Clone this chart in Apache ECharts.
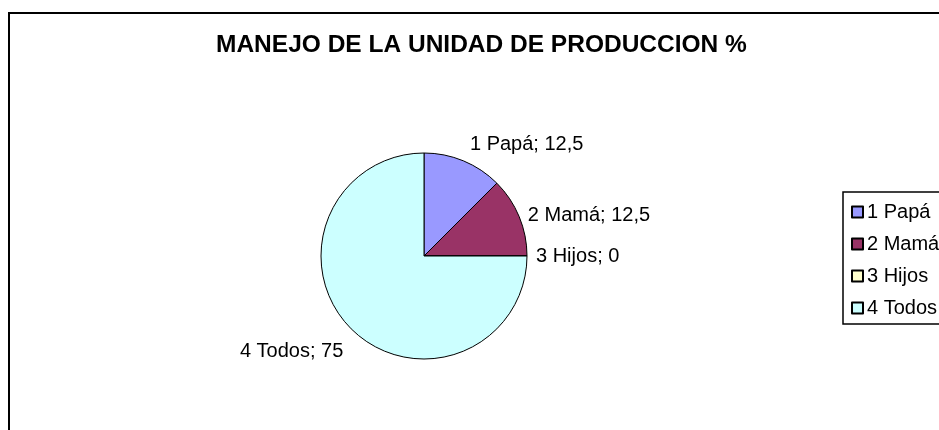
<!DOCTYPE html>
<html>
<head>
<meta charset="utf-8">
<script src="https://cdn.jsdelivr.net/npm/echarts@6/dist/echarts.min.js"></script>
<style>
html, body { margin: 0; padding: 0; background: #fff; }
#chart_box { width: 939px; height: 430px; }
</style>
</head>
<body>
<div id="chart_box"></div>
<script>
/*categorias*/
var categories = ['1 Papá', '2 Mamá', '3 Hijos', '4 Todos'];
/*porcentajes*/
var values = [12.5, 12.5, 0, 75];
/*colores de Excel*/
var colors = ['#9999FF', '#993366', '#FFFFCC', '#CCFFFF'];

var myChart = echarts.init(document.getElementById('chart_box'));

/*texto de la etiqueta con coma decimal*/
function labelText(p) {
	return p.name + '; ' + String(p.value).replace('.', ',');
}

var pieData = [];
for (var i = 0; i < categories.length; i++) {
	pieData.push({
		name: categories[i],
		value: values[i],
		itemStyle: { color: colors[i] }
	});
}
/*Excel pone la etiqueta de arriba un poco mas alta y la de abajo mas baja*/
pieData[0].label = {
	lineHeight: 26,
	formatter: function(p) { return labelText(p) + '\n '; }
};
pieData[3].label = {
	lineHeight: 40,
	formatter: function(p) { return ' \n' + labelText(p); }
};

var option = {
	animation: false,
	textStyle: { fontFamily: 'Arial, "Liberation Sans", sans-serif' },
	title: {
		text: 'MANEJO DE LA UNIDAD DE PRODUCCION %',
		left: 211,
		top: 28,
		textStyle: {
			fontSize: 24.5,
			fontWeight: 'bold',
			color: '#000',
			fontFamily: 'Arial, "Liberation Sans", sans-serif'
		}
	},
	/*marco del grafico*/
	graphic: [{
		type: 'rect',
		shape: { x: 9, y: 13, width: 1000, height: 1000 },
		style: { fill: 'none', stroke: '#000', lineWidth: 2 },
		silent: true
	}],
	legend: {
		orient: 'vertical',
		left: 843,
		top: 192,
		icon: 'rect',
		itemWidth: 11,
		itemHeight: 11,
		itemGap: 12,
		padding: [10, 70, 6, 8],
		borderColor: '#000',
		borderWidth: 1.5,
		data: categories,
		textStyle: { fontSize: 20, color: '#000', padding: [0, 0, 0, -1] }
	},
	series: [{
		type: 'pie',
		center: [424, 256],
		radius: 103,
		startAngle: 90,
		clockwise: true,
		avoidLabelOverlap: false,
		itemStyle: { borderColor: '#000', borderWidth: 1 },
		emphasis: { disabled: true },
		label: {
			show: true,
			position: 'outside',
			formatter: labelText,
			fontSize: 20,
			color: '#000',
			fontFamily: 'Arial, "Liberation Sans", sans-serif'
		},
		labelLine: { show: false, length: 4, length2: 0 },
		data: pieData
	}]
};
myChart.setOption(option);
</script>
</body>
</html>
